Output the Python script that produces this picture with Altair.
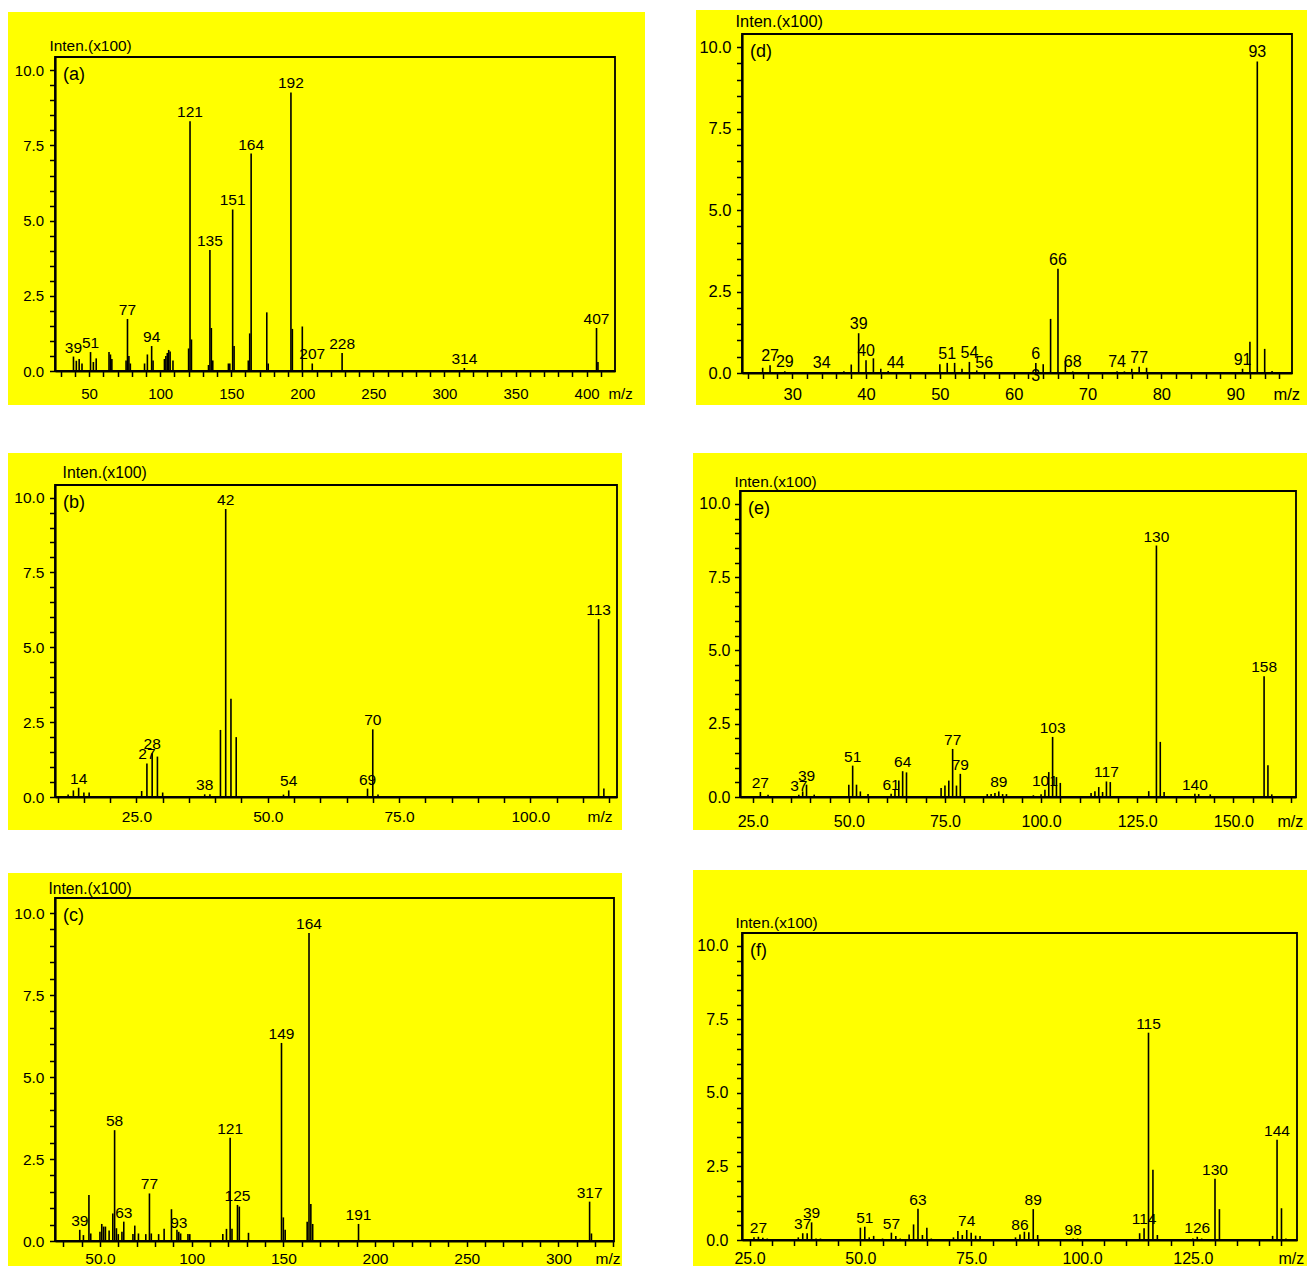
import altair as alt
import pandas as pd

FONT = "Liberation Sans"

# ---------------- data (m/z, intensity x100) ----------------
mz_a = [39, 41, 43, 45, 51, 53, 55, 64, 65, 66, 76, 77, 78, 79, 89, 91, 94, 95,
        103, 104, 105, 106, 107, 109, 120, 121, 122, 134, 135, 136, 137, 148, 149,
        151, 152, 162, 163, 164, 175, 176, 192, 193, 200, 207, 228, 314, 407, 408]
int_a = [0.48, 0.34, 0.40, 0.25, 0.63, 0.30, 0.42, 0.63, 0.55, 0.40, 0.35, 1.73, 0.50, 0.25, 0.25, 0.55, 0.83, 0.35,
         0.40, 0.50, 0.60, 0.70, 0.65, 0.35, 0.75, 8.30, 1.05, 0.20, 4.02, 1.43, 0.35, 0.25, 0.25,
         5.37, 0.83, 0.35, 1.25, 7.23, 1.95, 0.25, 9.26, 1.40, 1.48, 0.25, 0.60, 0.10, 1.43, 0.30]
lab_a = [39, 51, 77, 94, 121, 135, 151, 164, 192, 207, 228, 314, 407]

mz_b = [12, 13, 14, 15, 16, 26, 27, 28, 29, 30, 38, 39, 41, 42, 43, 44, 53, 54, 69, 70, 71, 113, 114]
int_b = [0.08, 0.22, 0.31, 0.15, 0.15, 0.20, 1.12, 1.46, 1.35, 0.15, 0.09, 0.09, 2.24, 9.62, 3.28, 2.00,
         0.08, 0.22, 0.28, 2.26, 0.08, 5.94, 0.28]
lab_b = [14, 27, 28, 38, 42, 54, 69, 70, 113]

mz_c = [39, 41, 44, 45, 50, 51, 52, 53, 55, 57, 58, 59, 60, 62, 63, 68, 69, 71, 75, 77, 78, 82, 85, 89,
        92, 93, 94, 98, 99, 117, 119, 121, 122, 125, 126, 131, 149, 150, 151, 163, 164, 165, 166, 191, 317, 318]
int_c = [0.34, 0.18, 1.40, 0.23, 0.28, 0.52, 0.44, 0.44, 0.32, 0.84, 3.38, 0.39, 0.21, 0.28, 0.59, 0.21, 0.47,
         0.23, 0.21, 1.45, 0.23, 0.21, 0.37, 0.97, 0.34, 0.28, 0.23, 0.21, 0.21, 0.21, 0.37, 3.15, 0.37, 1.10,
         1.05, 0.25, 6.04, 0.72, 0.34, 0.59, 9.39, 1.13, 0.52, 0.52, 1.20, 0.23]
lab_c = [39, 58, 63, 77, 93, 121, 125, 149, 164, 191, 317]

mz_d = [26, 27, 29, 34, 37, 38, 39, 40, 41, 42, 43, 44, 50, 51, 52, 53, 54, 55, 56, 63, 64, 65, 66, 67, 68,
        74, 75, 76, 77, 78, 91, 92, 93, 94, 95]
int_d = [0.16, 0.24, 0.05, 0.03, 0.05, 0.26, 1.22, 0.39, 0.45, 0.13, 0.06, 0.03, 0.27, 0.31, 0.31, 0.13, 0.34,
         0.08, 0.03, 0.31, 0.27, 1.66, 3.20, 0.37, 0.05, 0.05, 0.05, 0.13, 0.19, 0.16, 0.13, 0.96, 9.56, 0.74, 0.06]
lab_d = [27, 29, 34, 39, 40, 44, 51, 54, 56, 63, 66, 68, 74, 77, 91, 93]
text_d = {63: "6\n3"}

mz_e = [27, 29, 37, 38, 39, 41, 50, 51, 52, 53, 55, 61, 62, 63, 64, 65, 74, 75, 76, 77, 78, 79, 86, 87, 88,
        89, 90, 91, 98, 100, 101, 102, 103, 104, 105, 113, 114, 115, 116, 117, 118, 128, 130, 131, 132, 140,
        141, 144, 156, 158, 159, 160]
int_e = [0.17, 0.08, 0.08, 0.19, 0.42, 0.08, 0.42, 1.07, 0.42, 0.19, 0.10, 0.11, 0.27, 0.56, 0.88, 0.84, 0.31,
         0.39, 0.56, 1.64, 0.39, 0.79, 0.10, 0.10, 0.14, 0.19, 0.10, 0.10, 0.06, 0.09, 0.25, 0.85, 2.05, 0.68,
         0.48, 0.14, 0.20, 0.34, 0.17, 0.53, 0.51, 0.20, 8.58, 1.88, 0.17, 0.11, 0.10, 0.09, 0.03, 4.12, 1.08, 0.09]
lab_e = [27, 37, 39, 51, 61, 64, 77, 79, 89, 101, 103, 117, 130, 140, 158]

mz_f = [26, 27, 28, 29, 36, 37, 38, 39, 40, 41, 50, 51, 52, 53, 55, 57, 58, 59, 61, 62, 63, 64, 65, 66, 71, 72,
        73, 74, 75, 76, 77, 85, 86, 87, 88, 89, 90, 98, 99, 101, 113, 114, 115, 116, 117, 125, 126, 127, 130,
        131, 143, 144, 145, 146]
int_f = [0.09, 0.11, 0.08, 0.05, 0.09, 0.23, 0.23, 0.60, 0.05, 0.05, 0.42, 0.45, 0.09, 0.14, 0.05, 0.25, 0.14,
         0.05, 0.19, 0.53, 1.06, 0.17, 0.42, 0.05, 0.09, 0.31, 0.17, 0.34, 0.25, 0.15, 0.14, 0.09, 0.19, 0.28,
         0.26, 1.05, 0.17, 0.05, 0.05, 0.03, 0.23, 0.40, 7.05, 2.39, 0.17, 0.05, 0.11, 0.05, 2.08, 1.05, 0.14,
         3.41, 1.08, 0.05]
lab_f = [27, 37, 39, 51, 57, 63, 74, 86, 89, 98, 114, 115, 126, 130, 144]

y_ticks = [i * 0.5 for i in range(21)]

TICK = 5.5
YELLOW = "#FFFF00"

# ---------------- layout of the six panels (page pixels) ----------------
# plot = (left, top, width, height); yellow / cell = (x0, y0, x1, y1)
configs = {
    "a": dict(mz=mz_a, inten=int_a, labels=lab_a, texts={},
              plot=(55, 57, 560, 314), yellow=(8, 12, 645, 405), cell=(0, 0, 669, 429),
              xdom=[26, 420], ymax=10.44, xticks=list(range(30, 420, 10)),
              xlab="datum.value % 50 === 0 ? format(datum.value, 'd') : ''",
              xpad=10, ypad=6, axfs=15, pkfs=15.5, tfs=15.4, mzx=553, itx=-6, ity=-7),
    "d": dict(mz=mz_d, inten=int_d, labels=lab_d, texts=text_d,
              plot=(742, 34, 550, 339), yellow=(696, 10, 1307, 405), cell=(669, 0, 1307, 429),
              xdom=[23.2, 97.7], ymax=10.4, xticks=list(range(24, 97, 2)),
              xlab="datum.value % 10 === 0 ? format(datum.value, 'd') : ''",
              xpad=7.5, ypad=5.5, axfs=16.5, pkfs=16, tfs=16.4, mzx=531, itx=-7, ity=-8),
    "b": dict(mz=mz_b, inten=int_b, labels=lab_b, texts={},
              plot=(55, 485, 562, 312), yellow=(8, 453, 622, 830), cell=(0, 429, 669, 851),
              xdom=[9.5, 116.5], ymax=10.42, xticks=list(range(10, 116, 5)),
              xlab="datum.value % 25 === 0 ? format(datum.value, '.1f') : ''",
              xpad=6.5, ypad=5.5, axfs=15.5, pkfs=15.5, tfs=15.8, mzx=532, itx=7, ity=-8),
    "e": dict(mz=mz_e, inten=int_e, labels=lab_e, texts={},
              plot=(740, 491, 556, 306), yellow=(693, 453, 1307, 830), cell=(669, 429, 1307, 851),
              xdom=[21.7, 166.3], ymax=10.44, xticks=list(range(25, 166, 5)),
              xlab="datum.value % 25 === 0 ? format(datum.value, '.1f') : ''",
              xpad=11, ypad=4.5, axfs=16, pkfs=15.5, tfs=15.4, mzx=537, itx=-6, ity=-5),
    "c": dict(mz=mz_c, inten=int_c, labels=lab_c, texts={},
              plot=(55, 898, 559, 343), yellow=(8, 873, 622, 1266), cell=(0, 851, 669, 1266),
              xdom=[25.5, 330.3], ymax=10.46, xticks=list(range(30, 331, 10)),
              xlab="datum.value === 50 ? '50.0' : (datum.value % 50 === 0 ? format(datum.value, 'd') : '')",
              xpad=5, ypad=5.5, axfs=15.5, pkfs=15.5, tfs=15.6, mzx=540, itx=-7, ity=-5),
    "f": dict(mz=mz_f, inten=int_f, labels=lab_f, texts={},
              plot=(742, 933, 555, 307), yellow=(693, 870, 1307, 1266), cell=(669, 851, 1307, 1266),
              xdom=[23.3, 148.5], ymax=10.44, xticks=list(range(25, 146, 5)),
              xlab="datum.value % 25 === 0 ? format(datum.value, '.1f') : ''",
              xpad=5, ypad=8.5, axfs=16, pkfs=15.5, tfs=15.4, mzx=536, itx=-7, ity=-6),
}


def strip(one, x0, x1, y0, y1):
    return alt.Chart(one).mark_rect(fill="white", strokeWidth=0).encode(
        x=alt.value(x0), x2=alt.value(x1), y=alt.value(y0), y2=alt.value(y1))


def panel(letter):
    c = configs[letter]
    L, T, PW, PH = c["plot"]
    CL, CT, CR, CB = c["cell"]
    YL, YT, YR, YB = c["yellow"]
    W, H = CR - CL, CB - CT
    pl, pt = L - CL, T - CT
    pr, pb = pl + PW, pt + PH
    yl, yt, yr, yb = YL - CL, YT - CT, YR - CL, YB - CT

    peaks = pd.DataFrame({"mz": c["mz"], "inten": c["inten"]})
    lookup = dict(zip(c["mz"], c["inten"]))
    labs = pd.DataFrame({
        "mz": c["labels"],
        "inten": [lookup[m] for m in c["labels"]],
        "txt": [c["texts"].get(m, str(m)) for m in c["labels"]],
    })
    one = pd.DataFrame({"k": [0]})

    # white margins around the yellow panel (the page background is yellow)
    strips = [
        strip(one, 0, W, 0, yt),
        strip(one, 0, W, yb, H),
        strip(one, 0, yl, yt, yb),
        strip(one, yr, W, yt, yb),
    ]
    frame = alt.Chart(one).mark_rect(fill="transparent", stroke="black", strokeWidth=1.8).encode(
        x=alt.value(pl), x2=alt.value(pr), y=alt.value(pt), y2=alt.value(pb))

    xscale = alt.Scale(domain=c["xdom"], range=[pl, pr], nice=False, zero=False)
    yscale = alt.Scale(domain=[0, c["ymax"]], range=[pb, pt], nice=False, zero=False)

    xaxis = alt.Axis(
        values=c["xticks"], tickCount=500, labelExpr=c["xlab"], orient="bottom", offset=pb - H,
        tickSize=TICK, tickWidth=1.5, domainWidth=2.2, labelPadding=c["xpad"], labelFontSize=c["axfs"],
        labelFlush=False, labelOverlap=False, grid=False,
        title="m/z", titleX=pl + c["mzx"], titleY=TICK + c["xpad"], titleAlign="left",
        titleBaseline="top", titleFontSize=c["axfs"], titleFontWeight="normal", zindex=1)
    yaxis = alt.Axis(
        values=y_ticks, tickCount=500,
        labelExpr="datum.value % 2.5 === 0 ? format(datum.value, '.1f') : ''",
        orient="left", offset=-pl,
        tickSize=TICK, tickWidth=1.5, domainWidth=2.2, labelPadding=c["ypad"], labelFontSize=c["axfs"],
        labelFlush=False, labelOverlap=False, grid=False,
        title="Inten.(x100)", titleAngle=0, titleX=c["itx"], titleY=pt + c["ity"], titleAlign="left",
        titleBaseline="alphabetic", titleFontSize=c["tfs"], titleFontWeight="normal", zindex=1)

    rules = alt.Chart(peaks).mark_rule(color="black", strokeWidth=1.6).encode(
        x=alt.X("mz:Q", scale=xscale, axis=xaxis),
        y=alt.Y("inten:Q", scale=yscale, axis=yaxis),
        y2=alt.datum(0))
    texts = alt.Chart(labs).mark_text(
        font=FONT, fontSize=c["pkfs"], color="black", baseline="alphabetic", align="center",
        dy=-4, lineBreak="\n", lineHeight=22).encode(
        x=alt.X("mz:Q", scale=xscale),
        y=alt.Y("inten:Q", scale=yscale),
        text="txt:N")
    tag = alt.Chart(one).mark_text(
        font=FONT, fontSize=18, color="black", baseline="top", align="left").encode(
        x=alt.value(pl + 8), y=alt.value(pt + 9), text=alt.value(f"({letter})"))

    return alt.layer(rules, texts, *strips, frame, tag).properties(width=W, height=H)


chart = alt.concat(
    panel("a"), panel("d"),
    panel("b"), panel("e"),
    panel("c"), panel("f"),
    columns=2, spacing=0, bounds="flush"
).properties(
    padding=0, background=YELLOW
).configure_view(strokeWidth=0).configure_axis(
    labelFont=FONT, titleFont=FONT, labelColor="black", titleColor="black",
    domainColor="black", tickColor="black"
)

chart.save("out.html", embed_options={"renderer": "svg", "actions": False})
